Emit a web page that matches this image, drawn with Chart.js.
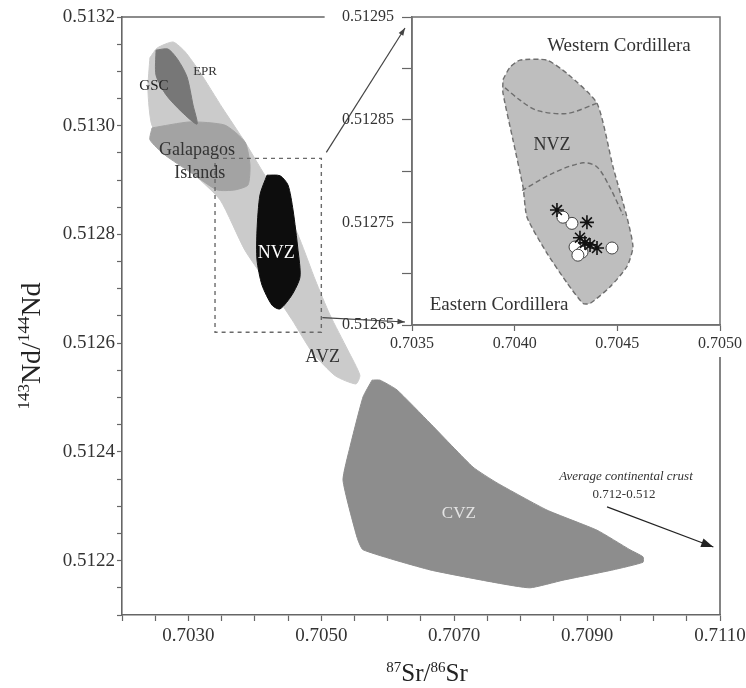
<!DOCTYPE html>
<html>
<head>
<meta charset="utf-8">
<script src="https://cdn.jsdelivr.net/npm/chart.js@4.4.0/dist/chart.umd.min.js"></script>
<style>
  html, body { margin: 0; padding: 0; background: #fff; }
  #wrap { position: relative; width: 746px; height: 688px; }
  #main { position: absolute; left: 0; top: 0; }
  #inset { position: absolute; left: 300px; top: 0; }
</style>
</head>
<body>
<div id="wrap">
  <canvas id="main" width="746" height="688"></canvas>
  <canvas id="inset" width="446" height="350"></canvas>
</div>
<script>
var FONT = "'Liberation Serif', 'DejaVu Serif', serif";
var INSET_LEFT = 300; // css offset of the inset canvas

// ---- main diagram: 87Sr/86Sr (x) vs 143Nd/144Nd (y) ----
// EPR - NVZ - AVZ light field
var bandSr = [0.70242, 0.70253, 0.70277, 0.70295, 0.70317, 0.70351, 0.70385, 0.70415, 0.70445, 0.70468, 0.70491, 0.70513, 0.70540, 0.70558, 0.70552, 0.70521, 0.70486, 0.70456, 0.70426, 0.70385, 0.70348, 0.70310, 0.70272, 0.70245, 0.70239];
var bandNd = [0.513125, 0.513143, 0.513154, 0.513136, 0.513099, 0.513033, 0.512970, 0.512909, 0.512854, 0.512790, 0.512716, 0.512652, 0.512587, 0.512541, 0.512525, 0.512540, 0.512584, 0.512643, 0.512698, 0.512771, 0.512863, 0.512909, 0.512955, 0.513001, 0.513066];
// Galapagos Islands
var galSr = [0.702452, 0.703023, 0.703550, 0.703851, 0.703926, 0.703896, 0.703701, 0.703430, 0.703023, 0.702647, 0.702421];
var galNd = [0.512996, 0.513007, 0.513001, 0.512970, 0.512928, 0.512891, 0.512882, 0.512882, 0.512915, 0.512946, 0.512974];
// GSC
var gscSr = [0.702512, 0.702692, 0.702843, 0.702978, 0.703069, 0.703129, 0.702903, 0.702662, 0.702512];
var gscNd = [0.513139, 0.513141, 0.513121, 0.513090, 0.513038, 0.513003, 0.513025, 0.513057, 0.513093];
// NVZ
var nvzSr = [0.704182, 0.704378, 0.704498, 0.704574, 0.704649, 0.704679, 0.704559, 0.704378, 0.704258, 0.704107, 0.704032, 0.704032, 0.704077];
var nvzNd = [0.512909, 0.512908, 0.512891, 0.512845, 0.512771, 0.512722, 0.512689, 0.512663, 0.512670, 0.512707, 0.512753, 0.512808, 0.512873];
// CVZ
var cvzSr = [0.705763, 0.705627, 0.705431, 0.705326, 0.705537, 0.705627, 0.706635, 0.707644, 0.708140, 0.708637, 0.709390, 0.709841, 0.709841, 0.709645, 0.709149, 0.708396, 0.707644, 0.707283, 0.706635, 0.706139, 0.705883];
var cvzNd = [0.512532, 0.512501, 0.512409, 0.512348, 0.512243, 0.512220, 0.512183, 0.512159, 0.512150, 0.512164, 0.512183, 0.512197, 0.512207, 0.512220, 0.512256, 0.512293, 0.512343, 0.512372, 0.512453, 0.512514, 0.512532];
// dashed box = inset area
var boxSr = [0.7034, 0.7050, 0.7050, 0.7034, 0.7034];
var boxNd = [0.51294, 0.51294, 0.51262, 0.51262, 0.51294];
// average continental crust arrow
var crustSr = [0.70930, 0.71090];
var crustNd = [0.512299, 0.512225];

var mainXLabels = [0.7030, 0.7050, 0.7070, 0.7090, 0.7110];
var mainYLabels = [0.5122, 0.5124, 0.5126, 0.5128, 0.5130, 0.5132];

// ---- inset: NVZ detail ----
var insNvzSr = [0.703943, 0.703977, 0.704026, 0.704157, 0.704255, 0.704401, 0.704479, 0.704547, 0.704576, 0.704547, 0.704464, 0.704367, 0.704333, 0.704255, 0.704157, 0.704060, 0.704041, 0.703992, 0.703943];
var insNvzNd = [0.512889, 0.512901, 0.512908, 0.512908, 0.512895, 0.512866, 0.512804, 0.512755, 0.512726, 0.512707, 0.512687, 0.512671, 0.512671, 0.512691, 0.512720, 0.512755, 0.512784, 0.512830, 0.512876];
var westSr = [0.703953, 0.704026, 0.704109, 0.704255, 0.704401];
var westNd = [0.512881, 0.512869, 0.512859, 0.512856, 0.512866];
var eastSr = [0.704036, 0.704187, 0.704333, 0.704401, 0.704464, 0.704528];
var eastNd = [0.512781, 0.512798, 0.512808, 0.512804, 0.512784, 0.512757];
var starSr = [0.704206, 0.704352, 0.704342, 0.704367, 0.704401, 0.704318];
var starNd = [0.512762, 0.512750, 0.512730, 0.512728, 0.512725, 0.512735];
var circleSr = [0.704279, 0.704235, 0.704294, 0.704328, 0.704474, 0.704308];
var circleNd = [0.512749, 0.512755, 0.512726, 0.512721, 0.512725, 0.512718];

var insXLabels = [0.7035, 0.7040, 0.7045, 0.7050];
var insYLabels = [0.51265, 0.51275, 0.51285, 0.51295];

function pts(xs, ys) {
    return xs.map(function (x, i) { return { x: x, y: ys[i] }; });
}

function closed(xs, ys) {
    var p = pts(xs, ys);
    p.push({ x: xs[0], y: ys[0] });
    return p;
}

function polygon(xs, ys, color, tension) {
    return {
        data: closed(xs, ys),
        showLine: true,
        fill: 'shape',
        backgroundColor: color,
        borderColor: color,
        borderWidth: 1,
        pointRadius: 0,
        tension: tension
    };
}

function labelFor(list, digits) {
    return function (v) {
        for (var i = 0; i < list.length; i++) {
            if (Math.abs(list[i] - v) < 1e-9) return list[i].toFixed(digits);
        }
        return '';
    };
}

// fixed axis size, and no extra room asked for the end labels
function fixSize(size) {
    return function (s) {
        if (s.isHorizontal()) s.height = size; else s.width = size;
        s.paddingLeft = 0; s.paddingRight = 0;
        s.paddingTop = 0; s.paddingBottom = 0;
    };
}

function drawArrow(ctx, x1, y1, x2, y2, head, color) {
    var a = Math.atan2(y2 - y1, x2 - x1);
    ctx.strokeStyle = color;
    ctx.fillStyle = color;
    ctx.beginPath();
    ctx.moveTo(x1, y1);
    ctx.lineTo(x2, y2);
    ctx.stroke();
    ctx.beginPath();
    ctx.moveTo(x2, y2);
    ctx.lineTo(x2 - head * Math.cos(a - 0.35), y2 - head * Math.sin(a - 0.35));
    ctx.lineTo(x2 - head * Math.cos(a + 0.35), y2 - head * Math.sin(a + 0.35));
    ctx.closePath();
    ctx.fill();
}

// text written at data positions
function notesPlugin(id, items) {
    return {
        id: id,
        afterDatasetsDraw: function (chart) {
            var ctx = chart.ctx, xs = chart.scales.x, ys = chart.scales.y;
            ctx.save();
            ctx.textAlign = 'center';
            ctx.textBaseline = 'middle';
            items.forEach(function (t) {
                ctx.font = (t.italic ? 'italic ' : '') + t.size + 'px ' + FONT;
                ctx.fillStyle = t.color || '#333';
                ctx.fillText(t.text, xs.getPixelForValue(t.x), ys.getPixelForValue(t.y));
            });
            ctx.restore();
        }
    };
}

// text with superscripts, parts = [[text, isSup], ...]
function supText(ctx, parts, size, supSize) {
    var w = 0;
    parts.forEach(function (p) {
        ctx.font = (p[1] ? supSize : size) + 'px ' + FONT;
        w += ctx.measureText(p[0]).width;
    });
    var x = -w / 2;
    parts.forEach(function (p) {
        ctx.font = (p[1] ? supSize : size) + 'px ' + FONT;
        ctx.fillText(p[0], x, p[1] ? -size * 0.38 : 0);
        x += ctx.measureText(p[0]).width;
    });
}

var mainNotes = [
    { text: 'EPR', x: 0.70325, y: 0.513099, size: 13 },
    { text: 'GSC', x: 0.70248, y: 0.513073, size: 15, color: '#222' },
    { text: 'Galapagos', x: 0.70313, y: 0.512955, size: 18 },
    { text: 'Islands', x: 0.70317, y: 0.512913, size: 18 },
    { text: 'NVZ', x: 0.70432, y: 0.512766, size: 18, color: '#fff' },
    { text: 'AVZ', x: 0.70502, y: 0.512575, size: 18 },
    { text: 'CVZ', x: 0.70707, y: 0.512286, size: 17, color: '#e4e4e4' },
    { text: 'Average continental crust', x: 0.709585, y: 0.512354, size: 13, italic: true },
    { text: '0.712-0.512', x: 0.709555, y: 0.512321, size: 13 }
];

var insetNotes = [
    { text: 'Western Cordillera', x: 0.704508, y: 0.512922, size: 19 },
    { text: 'Eastern Cordillera', x: 0.703924, y: 0.512669, size: 19 },
    { text: 'NVZ', x: 0.704182, y: 0.512825, size: 18 }
];

// ---------- inset chart ----------
var insetChart = new Chart(document.getElementById('inset'), {
    type: 'scatter',
    data: {
        datasets: [
            {
                data: pts(starSr, starNd), pointStyle: 'star', pointRadius: 7,
                borderColor: '#111', borderWidth: 1.6, backgroundColor: '#111'
            },
            {
                data: pts(circleSr, circleNd), pointStyle: 'circle', pointRadius: 6,
                borderColor: '#444', borderWidth: 1, backgroundColor: '#fff'
            },
            {
                data: pts(westSr, westNd), showLine: true, fill: false, pointRadius: 0,
                borderColor: '#6e6e6e', borderWidth: 1.4, borderDash: [5, 3], tension: 0.3
            },
            {
                data: pts(eastSr, eastNd), showLine: true, fill: false, pointRadius: 0,
                borderColor: '#6e6e6e', borderWidth: 1.4, borderDash: [5, 3], tension: 0.3
            },
            {
                data: closed(insNvzSr, insNvzNd), showLine: true, fill: 'shape', pointRadius: 0,
                backgroundColor: '#bebebe', borderColor: '#6e6e6e', borderWidth: 1.4,
                borderDash: [5, 3], tension: 0.2
            }
        ]
    },
    options: {
        responsive: false,
        animation: false,
        events: [],
        layout: { padding: { top: 17, right: 26, left: 0, bottom: 0 } },
        plugins: { legend: { display: false }, tooltip: { enabled: false } },
        scales: {
            x: {
                type: 'linear', min: 0.7035, max: 0.7050,
                afterFit: fixSize(25),
                ticks: {
                    stepSize: 0.0005, autoSkip: false, maxRotation: 0, padding: 3,
                    color: '#333', font: { family: FONT, size: 16 },
                    callback: labelFor(insXLabels, 4)
                },
                grid: { drawOnChartArea: false, tickLength: 6, tickColor: '#666', tickWidth: 1.2 },
                border: { color: '#707070', width: 1.5 }
            },
            y: {
                type: 'linear', min: 0.51265, max: 0.51295,
                afterFit: fixSize(112),
                ticks: {
                    stepSize: 0.00005, autoSkip: false, padding: 8,
                    color: '#333', font: { family: FONT, size: 16 },
                    callback: labelFor(insYLabels, 5)
                },
                grid: { drawOnChartArea: false, tickLength: 10, tickColor: '#666', tickWidth: 1.2 },
                border: { color: '#707070', width: 1.5 }
            }
        }
    },
    plugins: [
        {
            id: 'frame',
            beforeDatasetsDraw: function (chart) {
                var a = chart.chartArea, ctx = chart.ctx;
                ctx.save();
                ctx.strokeStyle = '#707070';
                ctx.lineWidth = 1.5;
                ctx.strokeRect(a.left, a.top, a.right - a.left, a.bottom - a.top);
                ctx.restore();
            }
        },
        notesPlugin('insetNotes', insetNotes)
    ]
});

// ---------- main chart ----------
var mainChart = new Chart(document.getElementById('main'), {
    type: 'scatter',
    data: {
        datasets: [
            {
                data: pts(boxSr, boxNd), showLine: true, fill: false, pointRadius: 0,
                borderColor: '#6a6a6a', borderWidth: 1.4, borderDash: [4, 4]
            },
            polygon(nvzSr, nvzNd, '#0d0d0d', 0.25),
            polygon(gscSr, gscNd, '#777777', 0.25),
            polygon(galSr, galNd, '#a3a3a3', 0.2),
            polygon(bandSr, bandNd, '#cbcbcb', 0.2),
            polygon(cvzSr, cvzNd, '#8d8d8d', 0.15)
        ]
    },
    options: {
        responsive: false,
        animation: false,
        events: [],
        layout: { padding: { top: 17, right: 26, left: 0, bottom: 0 } },
        plugins: { legend: { display: false }, tooltip: { enabled: false } },
        scales: {
            x: {
                type: 'linear', min: 0.7020, max: 0.7110,
                afterFit: fixSize(73),
                ticks: {
                    stepSize: 0.0005, autoSkip: false, maxRotation: 0, padding: 4,
                    color: '#333', font: { family: FONT, size: 19 },
                    callback: labelFor(mainXLabels, 4)
                },
                grid: { drawOnChartArea: false, tickLength: 6, tickColor: '#666', tickWidth: 1.2 },
                border: { color: '#666', width: 1.6 }
            },
            y: {
                type: 'linear', min: 0.5121, max: 0.5132,
                afterFit: fixSize(122),
                ticks: {
                    stepSize: 0.00005, autoSkip: false, padding: 2,
                    color: '#333', font: { family: FONT, size: 19 },
                    callback: labelFor(mainYLabels, 4)
                },
                grid: { drawOnChartArea: false, tickLength: 5, tickColor: '#666', tickWidth: 1.2 },
                border: { color: '#666', width: 1.6 }
            }
        }
    },
    plugins: [
        notesPlugin('mainNotes', mainNotes),
        {
            id: 'extras',
            afterDraw: function (chart) {
                var ctx = chart.ctx, a = chart.chartArea;
                var xs = chart.scales.x, ys = chart.scales.y;
                var ia = insetChart.chartArea;
                ctx.save();
                // partial top and right frame
                ctx.strokeStyle = '#666';
                ctx.lineWidth = 1.6;
                ctx.beginPath();
                ctx.moveTo(a.left, a.top);
                ctx.lineTo(xs.getPixelForValue(0.70505), a.top);
                ctx.moveTo(a.right, ia.bottom + 32);
                ctx.lineTo(a.right, a.bottom);
                ctx.stroke();

                // connectors from the dashed box to the inset
                ctx.lineWidth = 1.2;
                var bx = xs.getPixelForValue(boxSr[1]);
                var by = ys.getPixelForValue(boxNd[0]);
                drawArrow(ctx, bx + 5, by - 6, ia.left + INSET_LEFT - 7, ia.top + 11, 8, '#444');
                drawArrow(ctx, bx + 1, ys.getPixelForValue(0.512647), ia.left + INSET_LEFT - 7, ia.bottom - 3, 8, '#444');

                // average continental crust arrow
                drawArrow(ctx, xs.getPixelForValue(crustSr[0]), ys.getPixelForValue(crustNd[0]),
                    xs.getPixelForValue(crustSr[1]), ys.getPixelForValue(crustNd[1]), 13, '#222');

                // axis titles
                ctx.fillStyle = '#222';
                ctx.textBaseline = 'alphabetic';
                ctx.textAlign = 'left';
                ctx.save();
                ctx.translate((a.left + a.right) / 2 + 6, 681);
                supText(ctx, [['87', true], ['Sr/', false], ['86', true], ['Sr', false]], 25, 15);
                ctx.restore();
                ctx.save();
                ctx.translate(40, 346);
                ctx.rotate(-Math.PI / 2);
                supText(ctx, [['143', true], ['Nd/', false], ['144', true], ['Nd', false]], 28, 17);
                ctx.restore();
                ctx.restore();
            }
        }
    ]
});
</script>
</body>
</html>
